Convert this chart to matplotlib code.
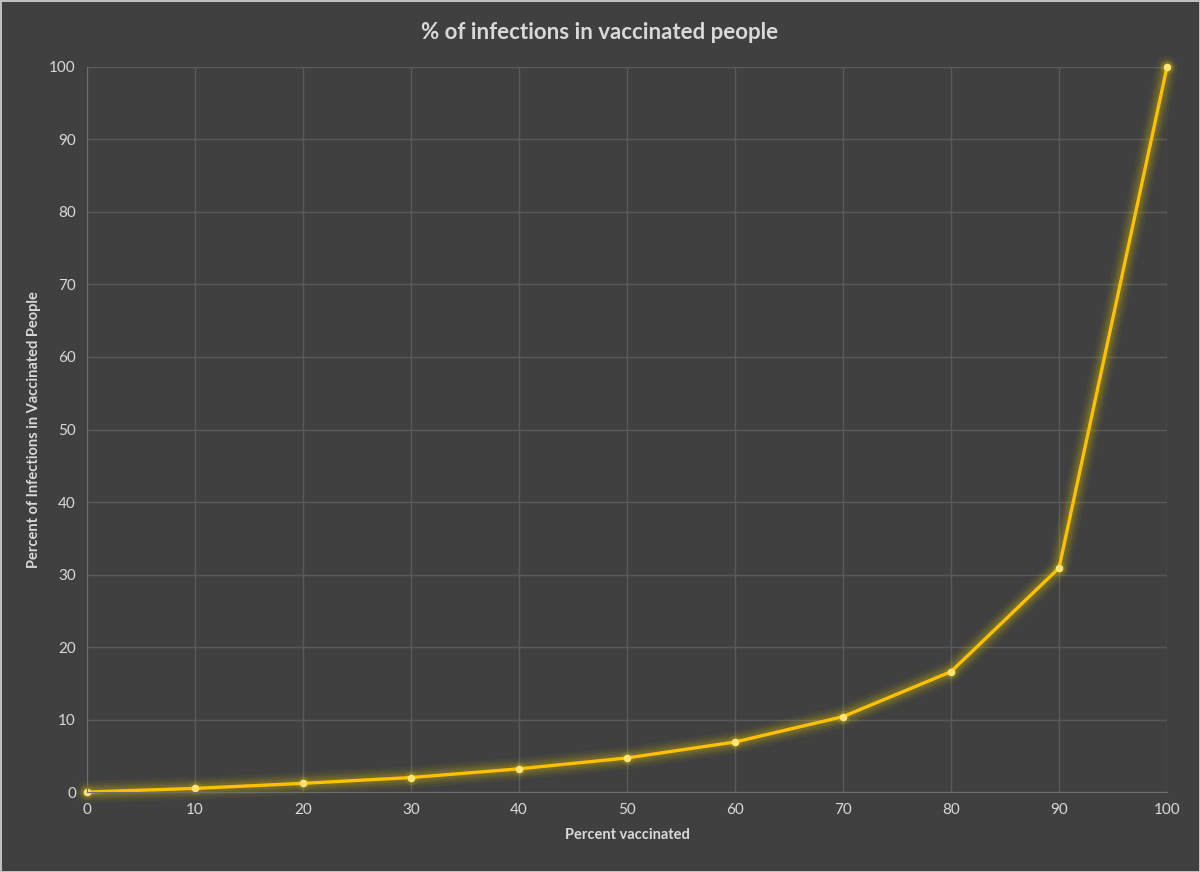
import matplotlib
matplotlib.use('Agg')
import matplotlib.pyplot as plt

# values
pct_vaccinated = [0, 10, 20, 30, 40, 50, 60, 70, 80, 90, 100]
pct_infections_vaccinated = [0, 0.5, 1.2, 2.0, 3.2, 4.7, 6.9, 10.4, 16.6, 30.9, 100]

bg = '#404040'
grid_col = '#5a5a5a'
text_col = '#d9d9d9'
line_col = '#ffc000'

plt.rcParams['font.family'] = ['Lato', 'DejaVu Sans']

fig = plt.figure(figsize=(12, 8.72), dpi=100, facecolor=bg,
                 edgecolor='#bfbfbf', linewidth=2)
ax = fig.add_axes([0.0725, 0.0917, 0.9, 0.8315])
ax.set_facecolor(bg)

# soft glow under the line
for lw, a in [(16, 0.05), (12, 0.07), (9, 0.09), (6, 0.12)]:
    ax.plot(pct_vaccinated, pct_infections_vaccinated, color='#e6d200',
            lw=lw, alpha=a, solid_capstyle='round', solid_joinstyle='round',
            clip_on=False)
ax.plot(pct_vaccinated, pct_infections_vaccinated, color='#e6d200', lw=0,
        marker='o', ms=10, alpha=0.12, markeredgewidth=0, clip_on=False)
ax.plot(pct_vaccinated, pct_infections_vaccinated, color=line_col, lw=2.4,
        solid_joinstyle='round', clip_on=False)
ax.plot(pct_vaccinated, pct_infections_vaccinated, lw=0, marker='o', ms=4.5,
        color='#ffe375', clip_on=False)

ax.set_xlim(0, 100)
ax.set_ylim(0, 100)
ax.set_xticks(range(0, 101, 10))
ax.set_yticks(range(0, 101, 10))
ax.grid(True, color=grid_col, lw=1)
ax.set_axisbelow(True)
ax.tick_params(length=0, colors=text_col, labelsize=11, pad=8)
for s in ['top', 'right']:
    ax.spines[s].set_visible(False)
for s in ['left', 'bottom']:
    ax.spines[s].set_color('#6e6e6e')

ax.set_xlabel('Percent vaccinated', color=text_col, fontsize=10.5,
              fontweight='bold', labelpad=8)
ax.set_ylabel('Percent of Infections in Vaccinated People', color=text_col,
              fontsize=10.5, fontweight='bold', labelpad=6)
fig.suptitle('% of infections in vaccinated people', color=text_col,
             fontsize=16, fontweight='bold', y=0.975)

fig.savefig('out.png', dpi=100, facecolor=bg, edgecolor='#bfbfbf')
